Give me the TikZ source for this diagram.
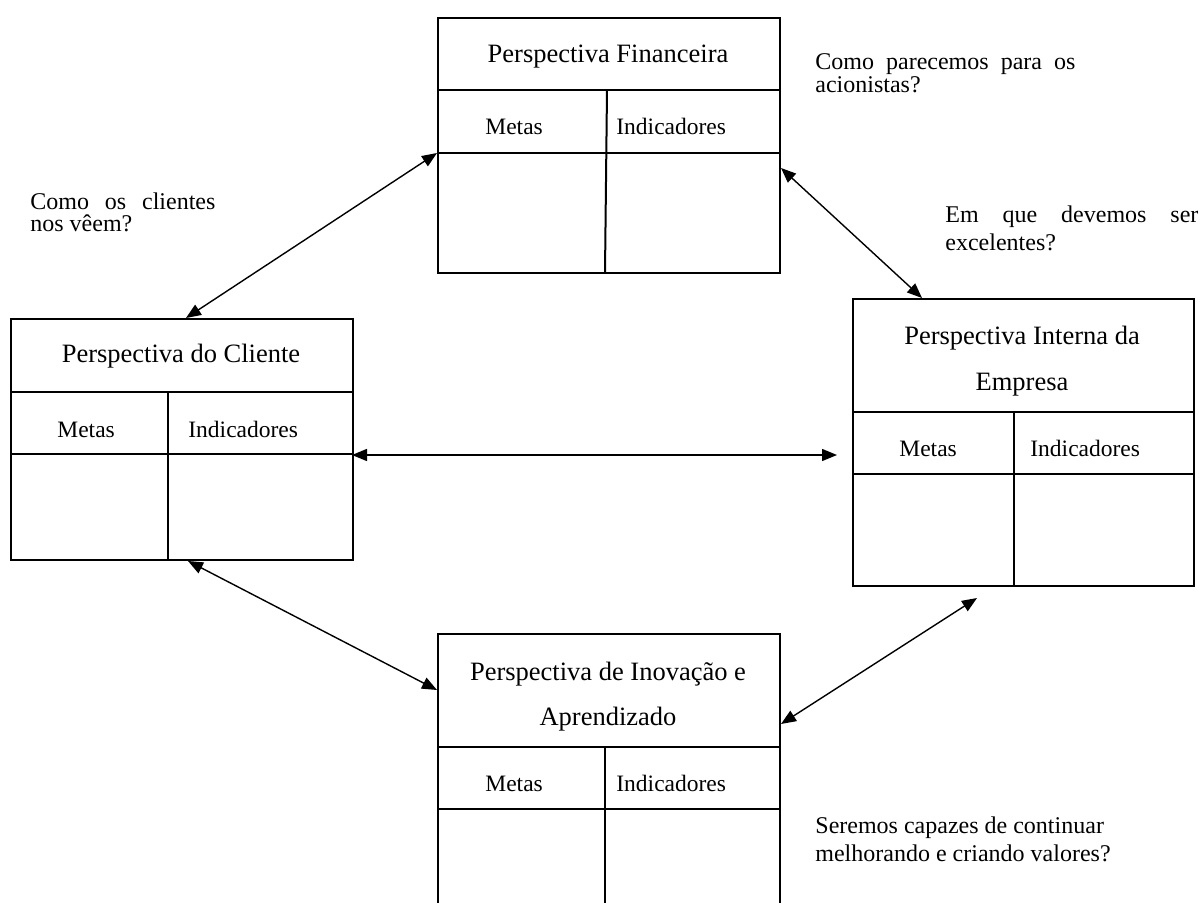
\documentclass[tikz,border=0pt]{standalone}
\usepackage{fontspec}
\setmainfont{Liberation Serif}
\usetikzlibrary{arrows.meta}
\begin{document}
\begin{tikzpicture}[x=0.5pt,y=-0.5pt,
  boxframe/.style={draw,line width=1pt,rectangle,inner sep=0pt,anchor=north west},
  rule/.style={line width=1pt},
  conn/.style={line width=0.7pt,{Triangle[length=7.5pt,width=6pt]}-{Triangle[length=7.5pt,width=6pt]}},
  head/.style={inner sep=0pt,anchor=base,font=\fontsize{13.25}{16}\selectfont},
  cell/.style={inner sep=0pt,anchor=base west,font=\fontsize{11.75}{14}\selectfont},
  quest/.style={inner sep=0pt,anchor=base west,font=\fontsize{12}{14}\selectfont}]
\useasboundingbox (0,0) rectangle (1203,903);
\clip (0,0) rectangle (1203,903);
\fill[white] (0,0) rectangle (1203,903);

% Perspectiva Financeira
\node[boxframe,minimum width=171pt,minimum height=127.5pt] (fin) at (437,17) {};
\draw[rule] (437,90) -- (779,90);
\draw[rule] (437,153) -- (779,153);
\draw[rule] (607,90) -- (605,272);
\node[head] (finh) at (608,63) {Perspectiva Financeira};
\node[cell] (finm) at (485,135) {Metas};
\node[cell] (fini) at (616,135) {Indicadores};

% Perspectiva do Cliente
\node[boxframe,minimum width=171pt,minimum height=120.5pt] (cli) at (10,318) {};
\draw[rule] (10,392) -- (352,392);
\draw[rule] (10,454) -- (352,454);
\draw[rule] (168,392) -- (168,559);
\node[head] (clih) at (181,363) {Perspectiva do Cliente};
\node[cell] (clim) at (57,437) {Metas};
\node[cell] (clii) at (188,437) {Indicadores};

% Perspectiva Interna da Empresa
\node[boxframe,minimum width=170.5pt,minimum height=143.5pt] (int) at (852,298) {};
\draw[rule] (852,412) -- (1193,412);
\draw[rule] (852,474) -- (1193,474);
\draw[rule] (1014,412) -- (1014,585);
\node[head] (inth1) at (1022,344) {Perspectiva Interna da};
\node[head] (inth2) at (1022,390) {Empresa};
\node[cell] (intm) at (899,456) {Metas};
\node[cell] (inti) at (1030,456) {Indicadores};

% Perspectiva de Inovacao e Aprendizado
\node[boxframe,minimum width=171pt,minimum height=150pt] (ino) at (437,633) {};
\draw[rule] (437,747) -- (779,747);
\draw[rule] (437,809) -- (779,809);
\draw[rule] (605,747) -- (605,933);
\node[head] (inoh1) at (608,680) {Perspectiva de Inovação e};
\node[head] (inoh2) at (608,725) {Aprendizado};
\node[cell] (inom) at (485,791) {Metas};
\node[cell] (inoi) at (616,791) {Indicadores};

% connector end points
\coordinate (finL) at (437,153);
\coordinate (cliT) at (186,318);
\coordinate (finR) at (781,168);
\coordinate (intT) at (922,298);
\coordinate (cliR) at (352,455);
\coordinate (intL) at (837,455);
\coordinate (cliB) at (188,561);
\coordinate (inoL) at (437,690);
\coordinate (inoR) at (781,724);
\coordinate (intB) at (977,598);

\draw[conn] (finL) -- (cliT);
\draw[conn] (finR) -- (intT);
\draw[conn] (cliR) -- (intL);
\draw[conn] (cliB) -- (inoL);
\draw[conn] (inoR) -- (intB);

% questions
\node[quest] (q1a) at (30,210) {\hbox to 92.5pt{Como\hfill os\hfill clientes}};
\node[quest] (q1b) at (30,232) {nos vêem?};
\node[quest] (q2a) at (815,70) {\hbox to 130pt{Como\hfill parecemos\hfill para\hfill os}};
\node[quest] (q2b) at (815,93) {acionistas?};
\node[quest] (q3a) at (945,223) {\hbox to 126.5pt{Em\hfill que\hfill devemos\hfill ser}};
\node[quest] (q3b) at (945,251) {excelentes?};
\node[quest] (q4a) at (815,833) {Seremos capazes de continuar};
\node[quest] (q4b) at (815,861) {melhorando e criando valores?};
\end{tikzpicture}
\end{document}
